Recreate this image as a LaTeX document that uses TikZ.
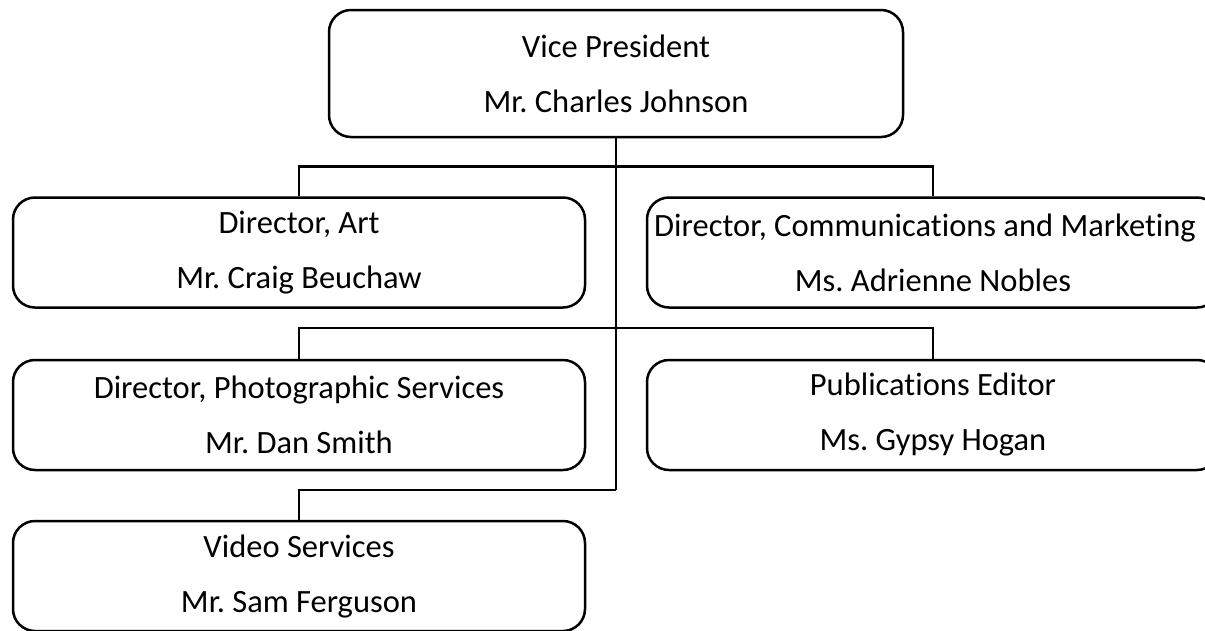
\documentclass[tikz,border=0pt]{standalone}
\usepackage{fontspec}
\setmainfont{Carlito}[Ligatures={NoCommon}]
\begin{document}
\frenchspacing
\begin{tikzpicture}[x=1pt,y=1pt,
  orgbox/.style={draw, line width=2.5pt, rounded corners=22pt, align=center,
    minimum width=572pt, minimum height=110pt, inner sep=0pt,
    font=\fontsize{32.5}{55}\selectfont},
  link/.style={line width=2.5pt}]
\useasboundingbox (0,0) rectangle (1205,-630);
\node[orgbox, minimum width=574pt, minimum height=127pt] (vp) at (616,-73.5) {Vice President\\Mr. Charles Johnson};
\node[orgbox] (art) at (299,-252.5) {Director, Art\\Mr. Craig Beuchaw};
\node[orgbox] (com) at (933,-252.5) {\hspace*{-16pt}Director, Communications and Marketing\\Ms. Adrienne Nobles};
\node[orgbox] (photo) at (299,-415) {Director, Photographic Services\\Mr. Dan Smith};
\node[orgbox] (pub) at (933,-415) {Publications Editor\\Ms. Gypsy Hogan};
\node[orgbox] (video) at (299,-576) {Video Services\\Mr. Sam Ferguson};
\coordinate (tend) at (616,-490);
\draw[link] (vp.south) -- (tend);
\draw[link] (art.north) -- ++(0,30) -| (com.north);
\draw[link] (photo.north) -- ++(0,31) -| (pub.north);
\draw[link] (tend) -| (video.north);
\end{tikzpicture}
\end{document}
